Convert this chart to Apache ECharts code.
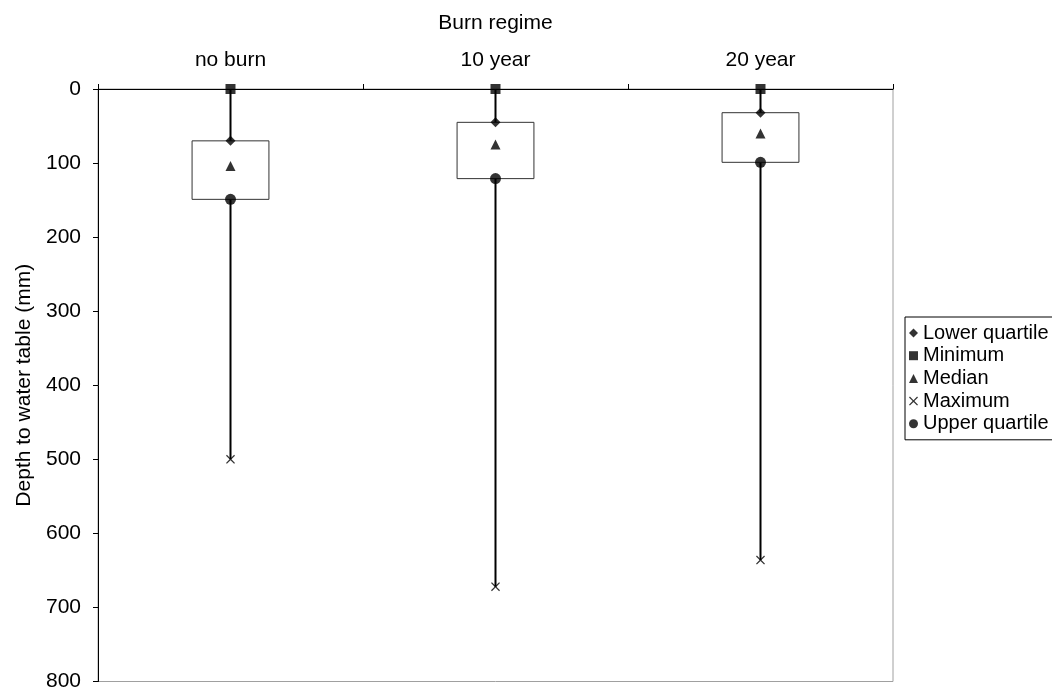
<!DOCTYPE html>
<html>
<head>
<meta charset="utf-8">
<script src="https://cdn.jsdelivr.net/npm/echarts@6/dist/echarts.min.js"></script>
<style>
  html, body { margin: 0; padding: 0; background: #fff; }
  #chart { width: 1052px; height: 692px; }
</style>
</head>
<body>
<div id="chart"></div>
<script>
var categories = ['no burn', '10 year', '20 year'];
var minimum = [0, 0, 0];
var lowerQuartile = [70, 45, 32];
var median = [104, 75, 60];
var upperQuartile = [149, 121, 99];
var maximum = [500, 672, 636];
var yTicks = { min: 0, max: 800, interval: 100 };

var font = 'Liberation Sans, Arial, sans-serif';
var crossPath = 'path://M0,1L1,0L5,4L9,0L10,1L6,5L10,9L9,10L5,6L1,10L0,9L4,5Z';

var chart = echarts.init(document.getElementById('chart'), null, { renderer: 'canvas' });

var boxData = categories.map(function (c, i) {
    return [i, lowerQuartile[i], upperQuartile[i], minimum[i], maximum[i]];
});

function points(arr) {
    return arr.map(function (v, i) { return [i, v]; });
}

function markerSeries(name, arr, symbol, size) {
    return {
        name: name,
        type: 'scatter',
        data: points(arr),
        symbol: symbol,
        symbolSize: size,
        itemStyle: { color: '#000' },
        z: 5
    };
}

var option = {
    animation: false,
    backgroundColor: '#fff',
    textStyle: { fontFamily: font },
    grid: {
        left: 98, right: 159, top: 89, bottom: 10,
        show: true, borderColor: '#a0a0a0', borderWidth: 1
    },
    legend: {
        orient: 'vertical',
        left: 905, top: 317,
        padding: [6, 60, 6, 4],
        itemGap: 2.7,
        itemWidth: 9, itemHeight: 9,
        borderColor: '#000', borderWidth: 1,
        textStyle: { fontSize: 20, lineHeight: 20, color: '#000', fontFamily: font },
        data: ['Lower quartile', 'Minimum', 'Median', 'Maximum', 'Upper quartile']
    },
    xAxis: {
        type: 'category',
        data: categories,
        position: 'top',
        name: 'Burn regime',
        nameLocation: 'middle',
        nameGap: 55,
        nameTextStyle: { fontSize: 21, color: '#000' },
        axisLine: { show: true, lineStyle: { color: '#000', width: 1 } },
        axisTick: { show: true, length: 5, lineStyle: { color: '#000' } },
        axisLabel: { fontSize: 21, color: '#000', margin: 18 },
        splitLine: { show: false }
    },
    yAxis: {
        type: 'value',
        inverse: true,
        min: yTicks.min, max: yTicks.max, interval: yTicks.interval,
        name: 'Depth to water table (mm)',
        nameLocation: 'middle',
        nameGap: 62,
        nameTextStyle: { fontSize: 21, color: '#000' },
        axisLine: { show: true, lineStyle: { color: '#000', width: 1 } },
        axisTick: { show: true, length: 5, lineStyle: { color: '#000' } },
        axisLabel: { fontSize: 21, color: '#000', margin: 17 },
        splitLine: { show: false }
    },
    series: [
        {
            name: 'box',
            type: 'custom',
            data: boxData,
            encode: { x: 0, y: [1, 2, 3, 4] },
            z: 3,
            renderItem: function (params, api) {
                var x = api.value(0);
                var pLo = api.coord([x, api.value(1)]);
                var pHi = api.coord([x, api.value(2)]);
                var pMin = api.coord([x, api.value(3)]);
                var pMax = api.coord([x, api.value(4)]);
                var w = api.size([1, 0])[0] * 0.29;
                return {
                    type: 'group',
                    children: [
                        {
                            type: 'line',
                            shape: { x1: pMin[0], y1: pMin[1], x2: pMax[0], y2: pMax[1] },
                            style: { stroke: '#000', lineWidth: 2 }
                        },
                        {
                            type: 'rect',
                            shape: {
                                x: pLo[0] - w / 2,
                                y: Math.min(pLo[1], pHi[1]),
                                width: w,
                                height: Math.abs(pHi[1] - pLo[1])
                            },
                            style: { fill: '#fff', stroke: '#333', lineWidth: 1 }
                        }
                    ]
                };
            }
        },
        markerSeries('Lower quartile', lowerQuartile, 'diamond', 10),
        markerSeries('Minimum', minimum, 'rect', 10),
        markerSeries('Median', median, 'triangle', 10),
        markerSeries('Maximum', maximum, crossPath, 9),
        markerSeries('Upper quartile', upperQuartile, 'circle', 11)
    ]
};

chart.setOption(option);
</script>
</body>
</html>
